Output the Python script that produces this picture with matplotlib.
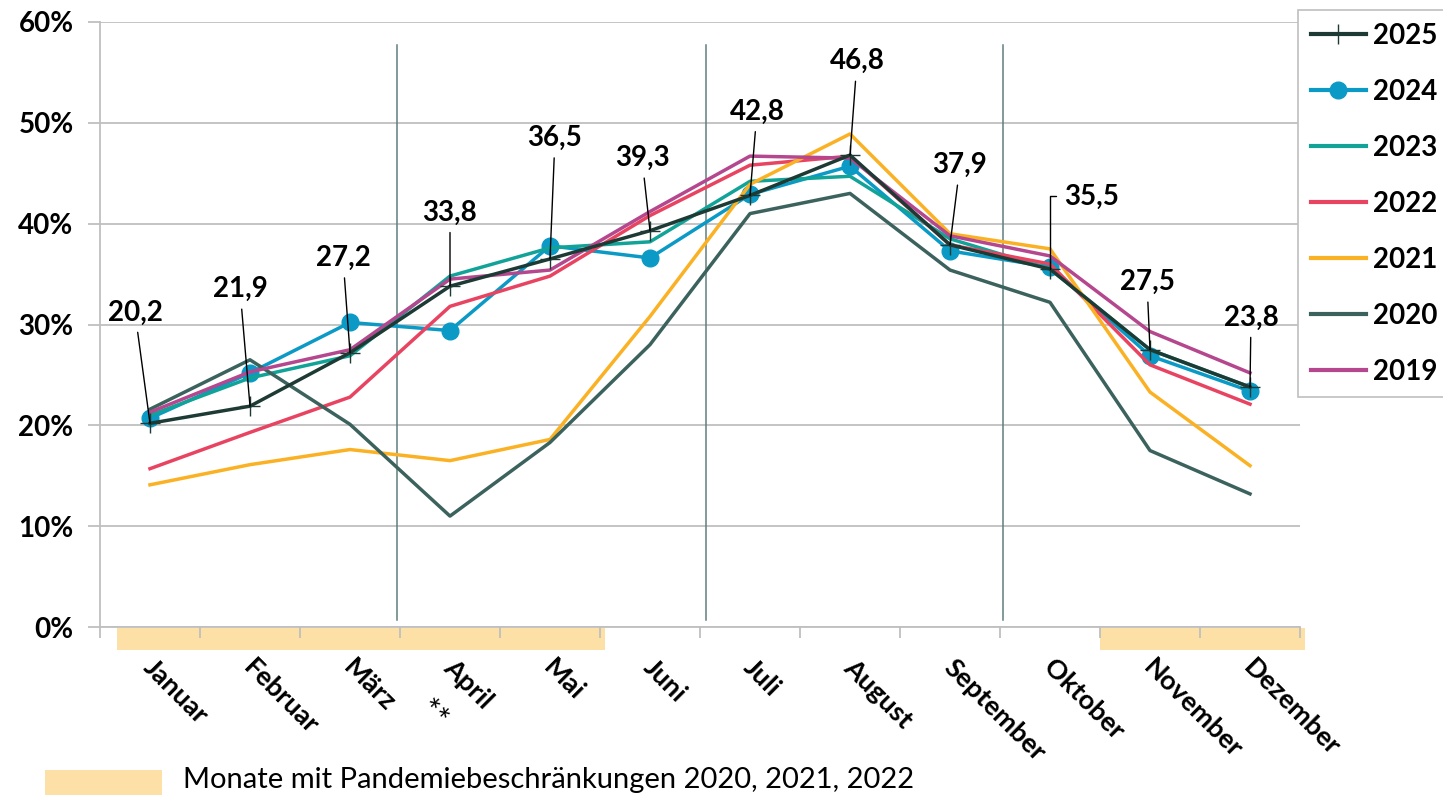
import matplotlib
matplotlib.use("Agg")
import matplotlib.pyplot as plt
from matplotlib.patches import Rectangle
from matplotlib.transforms import ScaledTranslation, blended_transform_factory

plt.rcParams['font.family'] = ['Lato', 'DejaVu Sans']

# months on the x axis
months = ['Januar', 'Februar', 'März', 'April', 'Mai', 'Juni', 'Juli',
          'August', 'September', 'Oktober', 'November', 'Dezember']

# values per year, in percent
v2025 = [20.2, 21.9, 27.2, 33.8, 36.5, 39.3, 42.8, 46.8, 37.9, 35.5, 27.5, 23.8]
v2024 = [20.7, 25.2, 30.2, 29.4, 37.8, 36.6, 42.9, 45.7, 37.3, 35.7, 26.9, 23.4]
v2023 = [21.0, 24.7, 26.9, 34.8, 37.6, 38.2, 44.2, 44.7, 38.5, 35.5, 27.5, 23.8]
v2022 = [15.7, 19.3, 22.8, 31.8, 34.8, 40.8, 45.8, 46.7, 37.9, 36.0, 26.0, 22.1]
v2021 = [14.1, 16.1, 17.6, 16.5, 18.6, 30.8, 43.9, 48.9, 39.0, 37.5, 23.3, 16.0]
v2020 = [21.6, 26.5, 20.1, 11.0, 18.3, 28.0, 41.0, 43.0, 35.4, 32.2, 17.5, 13.2]
v2019 = [21.3, 25.3, 27.5, 34.5, 35.4, 41.2, 46.7, 46.5, 38.8, 36.8, 29.3, 25.2]

# months with pandemic restrictions (2020-2022)
pandemic_months = ['Januar', 'Februar', 'März', 'April', 'Mai', 'November', 'Dezember']

# where the 2025 value labels sit (month index, percent)
label_pos = [(-0.15, 31.2), (0.90, 33.5), (1.93, 36.6), (3.0, 41.1), (4.05, 48.5),
             (4.92, 46.5), (6.07, 51.1), (7.07, 56.1), (8.10, 45.8), (9.42, 42.7),
             (9.97, 34.2), (11.01, 30.7)]

fig = plt.figure(figsize=(14.43, 7.98), dpi=100)
ax = fig.add_axes([100 / 1443, 171 / 798, 1200 / 1443, 605 / 798])

x = range(len(months))
grid_col = '#bfbfbf'

# draw order: 2024 at the bottom, 2025 on top
ax.plot(x, v2024, color='#0a9ac5', lw=2.5, marker='o', markersize=12, zorder=3)
ax.plot(x, v2023, color='#12a398', lw=2.5, zorder=3)
ax.plot(x, v2022, color='#e84462', lw=2.5, zorder=3)
ax.plot(x, v2021, color='#fbb124', lw=2.5, zorder=3)
ax.plot(x, v2020, color='#3c625e', lw=2.5, zorder=3)
ax.plot(x, v2019, color='#b5478f', lw=2.5, zorder=3)
ax.plot(x, v2025, color='#1e3a34', lw=2.5, marker='+', markersize=14,
        markeredgewidth=1.0, zorder=4)

# legend handles in the original order
handles = [
    plt.Line2D([], [], color='#1e3a34', lw=3, marker='+', markersize=14, markeredgewidth=1.0),
    plt.Line2D([], [], color='#0a9ac5', lw=3, marker='o', markersize=12),
    plt.Line2D([], [], color='#12a398', lw=3),
    plt.Line2D([], [], color='#e84462', lw=3),
    plt.Line2D([], [], color='#fbb124', lw=3),
    plt.Line2D([], [], color='#3c625e', lw=3),
    plt.Line2D([], [], color='#b5478f', lw=3),
]
years = ['2025', '2024', '2023', '2022', '2021', '2020', '2019']
leg = fig.legend(handles, years, loc='upper left', bbox_to_anchor=(1298 / 1443, 1 - 10 / 798),
                 frameon=True, fancybox=False, edgecolor=grid_col, framealpha=1,
                 prop={'weight': 'bold', 'size': 20}, handlelength=2.0,
                 handletextpad=0.25, labelspacing=1.08, borderpad=0.45, borderaxespad=0)
leg.get_frame().set_linewidth(1.2)

# value labels for 2025 with leader lines
for i, (lx, ly) in enumerate(label_pos):
    txt = f"{v2025[i]:.1f}".replace('.', ',')
    if i == 9:
        ap = dict(arrowstyle='-', color='black', lw=1,
                  connectionstyle='angle,angleA=0,angleB=90,rad=0', shrinkA=4, shrinkB=0)
    else:
        ap = dict(arrowstyle='-', color='black', lw=1, shrinkA=3, shrinkB=0)
    ax.annotate(txt, xy=(i, v2025[i]), xytext=(lx, ly), textcoords='data',
                ha='center', va='center', fontsize=20, fontweight='bold',
                arrowprops=ap, zorder=5)

# quarter separators
for xv in [2.47, 5.56, 8.53]:
    ax.plot([xv, xv], [0.7, 57.7], color='#5f7f7d', lw=1.1, zorder=2)

ax.set_xlim(-0.5, 11.5)
ax.set_ylim(0, 60)
ax.set_yticks(range(0, 61, 10))
ax.set_yticklabels([f"{t}%" for t in range(0, 61, 10)], fontsize=20, fontweight='bold')
ax.yaxis.grid(True, color=grid_col, lw=1.3)
ax.set_axisbelow(True)
ax.tick_params(axis='y', length=9, color=grid_col, width=1.3, pad=10)

ax.set_xticks(range(len(months)))
ax.set_xticklabels(months, rotation=-45, ha='left', va='top', rotation_mode='anchor',
                   fontsize=19.5, fontweight='bold')
ax.set_xticks([k - 0.5 for k in range(len(months) + 1)], minor=True)
ax.tick_params(axis='x', which='major', length=0, pad=20)
ax.tick_params(axis='x', which='minor', length=8, color=grid_col, width=1.3)
for lab in ax.get_xticklabels():
    lab.set_transform(lab.get_transform() + ScaledTranslation(0.06, 0, fig.dpi_scale_trans))

for side in ['top', 'right']:
    ax.spines[side].set_visible(False)
ax.spines['left'].set_color(grid_col)
ax.spines['left'].set_linewidth(1.3)
ax.spines['bottom'].set_color(grid_col)
ax.spines['bottom'].set_linewidth(1.3)

# pandemic bands under the x axis
band_col = '#fde0a6'
trans = blended_transform_factory(ax.transData, ax.transAxes)
idx = sorted(months.index(m) for m in pandemic_months)
runs = []
start = idx[0]
prev = idx[0]
for k in idx[1:]:
    if k != prev + 1:
        runs.append((start, prev))
        start = k
    prev = k
runs.append((start, prev))
for a, b in runs:
    left = max(a - 0.5, -0.33)
    ax.add_patch(Rectangle((left, -0.038), b + 0.55 - left, 0.036, transform=trans,
                           facecolor=band_col, edgecolor='none', clip_on=False, zorder=0))

fig.text(431 / 1443, 1 - 716 / 798, '**', fontsize=23, ha='center', va='center', rotation=-45)

# bottom legend for the bands
fig.patches.append(Rectangle((45 / 1443, 1 - 795 / 798), 117 / 1443, 25 / 798,
                             transform=fig.transFigure, facecolor=band_col, edgecolor='none'))
fig.text(183 / 1443, 1 - 780 / 798, 'Monate mit Pandemiebeschränkungen 2020, 2021, 2022',
         fontsize=21, ha='left', va='center')

plt.savefig('out.png', dpi=100)
